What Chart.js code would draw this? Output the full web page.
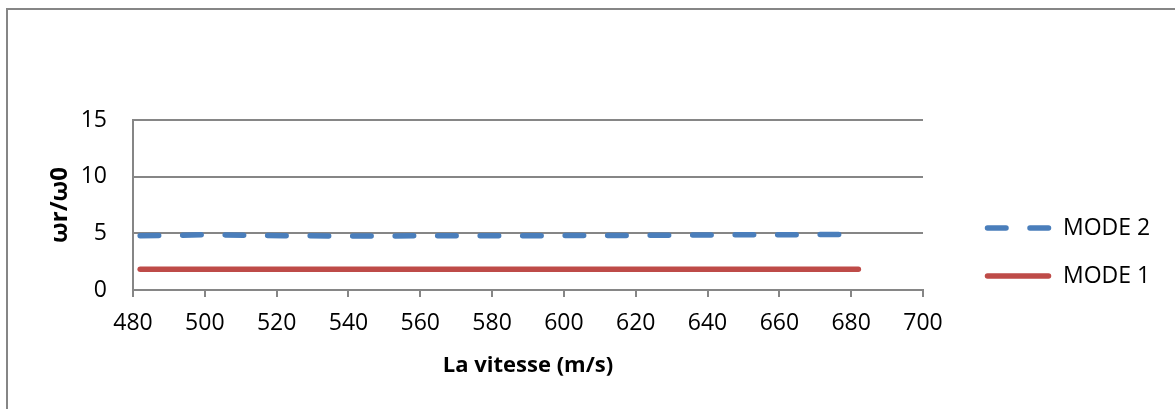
<!DOCTYPE html>
<html>
<head>
<meta charset="utf-8">
<script src="https://cdn.jsdelivr.net/npm/chart.js@4/dist/chart.umd.min.js"></script>
<style>
  html, body { margin: 0; padding: 0; background: #fff; overflow: hidden; }
  #wrap { position: relative; width: 1175px; height: 409px; }
  #frame { position: absolute; left: 6px; top: 8px; width: 1300px; height: 500px; border: 2px solid #868686; box-sizing: border-box; }
  canvas { position: absolute; left: 0; top: 0; }
</style>
</head>
<body>
<div id="wrap">
  <div id="frame"></div>
  <canvas id="chart" width="1175" height="409"></canvas>
</div>
<script>
// vitesse (m/s)
const vitesse = [482, 502, 522, 542, 562, 582, 602, 622, 642, 662, 682];
// ωr/ω0
const mode2 = [4.78, 4.88, 4.78, 4.77, 4.78, 4.79, 4.8, 4.82, 4.86, 4.88, 4.9];
const mode1 = [1.84, 1.84, 1.84, 1.84, 1.84, 1.84, 1.84, 1.84, 1.84, 1.84, 1.84];

const seriesNames = ['MODE 2', 'MODE 1'];
const xTicks = [480, 500, 520, 540, 560, 580, 600, 620, 640, 660, 680, 700];
const yTicks = [0, 5, 10, 15];

const FONT = "'Open Sans', sans-serif";
const GRID = '#868686';

function points(ys) {
    return vitesse.map((v, i) => ({ x: v, y: ys[i] }));
}

// legend drawn at the right, like Excel
const sideLegend = {
    id: 'sideLegend',
    afterDraw(chart) {
        const ctx = chart.ctx;
        const rows = [228, 276];
        chart.data.datasets.forEach((ds, i) => {
            const y = rows[i];
            ctx.save();
            ctx.strokeStyle = ds.borderColor;
            ctx.lineWidth = ds.borderWidth;
            ctx.lineCap = 'round';
            ctx.setLineDash(ds.borderDash || []);
            ctx.beginPath();
            ctx.moveTo(987.5, y);
            ctx.lineTo(1048.5, y);
            ctx.stroke();
            ctx.setLineDash([]);
            ctx.fillStyle = '#000';
            ctx.font = '23px ' + FONT;
            ctx.textBaseline = 'middle';
            ctx.fillText(ds.label, 1063, y);
            ctx.restore();
        });
    }
};

const ctx = document.getElementById('chart').getContext('2d');
const myChart = new Chart(ctx, {
    type: 'line',
    data: {
        datasets: [{
            label: seriesNames[0],
            data: points(mode2),
            borderColor: '#4a7ebb',
            borderWidth: 5.5,
            borderDash: [18.5, 24],
            borderCapStyle: 'round',
            pointRadius: 0,
            tension: 0
        }, {
            label: seriesNames[1],
            data: points(mode1),
            borderColor: '#be4b48',
            borderWidth: 5.5,
            borderCapStyle: 'round',
            pointRadius: 0,
            tension: 0
        }]
    },
    options: {
        responsive: false,
        animation: false,
        layout: { padding: { top: 120, right: 252, left: 0, bottom: 0 } },
        plugins: {
            legend: { display: false },
            tooltip: { enabled: false }
        },
        scales: {
            x: {
                type: 'linear',
                min: 480,
                max: 700,
                afterBuildTicks: s => { s.ticks = xTicks.map(v => ({ value: v })); },
                afterFit: s => { s.height = 119; },
                border: { color: GRID, width: 2 },
                grid: { drawOnChartArea: false, drawTicks: true, tickLength: 7, color: GRID, lineWidth: 2 },
                ticks: { color: '#000', font: { family: FONT, size: 23 }, padding: 13, maxRotation: 0 },
                title: {
                    display: true,
                    text: 'La vitesse (m/s)',
                    color: '#000',
                    font: { family: FONT, size: 22, weight: 'bold' },
                    padding: { top: 0, bottom: 30 }
                }
            },
            y: {
                min: 0,
                max: 15,
                afterBuildTicks: s => { s.ticks = yTicks.map(v => ({ value: v })); },
                afterFit: s => { s.width = 133; },
                border: { color: GRID, width: 2 },
                grid: { color: GRID, lineWidth: 2, drawTicks: false },
                ticks: { color: '#000', font: { family: FONT, size: 23 }, padding: 26 },
                title: {
                    display: true,
                    text: 'ωr/ω0',
                    color: '#000',
                    font: { family: FONT, size: 24, weight: 'bold' },
                    padding: { top: 46, bottom: 0 }
                }
            }
        }
    },
    plugins: [sideLegend]
});
</script>
</body>
</html>
